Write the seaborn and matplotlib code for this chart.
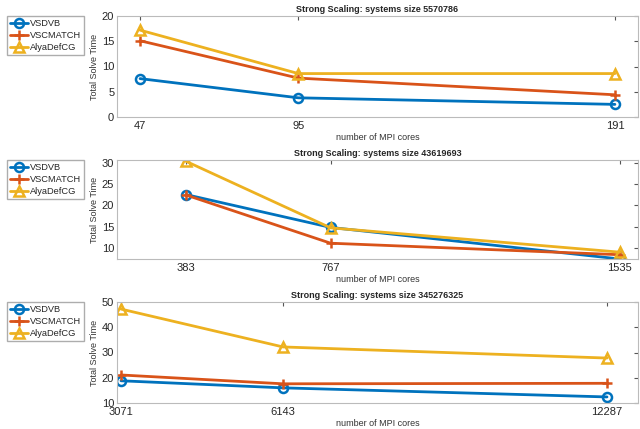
import matplotlib
matplotlib.use("Agg")
import matplotlib.pyplot as plt
import seaborn as sns
import pandas as pd

sns.set_style("white")
plt.rcParams['font.family'] = ['Liberation Sans', 'DejaVu Sans']

series_names = ["VSDVB", "VSCMATCH", "AlyaDefCG"]
colors = ["#0072BD", "#D95319", "#EDB120"]
markers = ["o", "+", "^"]

cores1 = [47, 95, 191]
vsdvb1 = [7.6, 3.8, 2.5]
vscmatch1 = [15.1, 7.7, 4.4]
alya1 = [17.2, 8.6, 8.6]

cores2 = [383, 767, 1535]
vsdvb2 = [22.5, 14.8, 7.4]
vscmatch2 = [22.4, 11.1, 8.4]
alya2 = [30.3, 14.7, 9.0]

cores3 = [3071, 6143, 12287]
vsdvb3 = [18.8, 16.0, 12.4]
vscmatch3 = [21.1, 17.6, 17.8]
alya3 = [47.2, 32.2, 27.8]

titles = ["Strong Scaling: systems size 5570786",
          "Strong Scaling: systems size 43619693",
          "Strong Scaling: systems size 345276325"]
xlims = [(40, 198), (200, 1583), (2995, 12875)]
ylims = [(0, 20), (7.4, 30.6), (10, 50)]
yticks = [[0, 5, 10, 15, 20], [10, 15, 20, 25, 30], [10, 20, 30, 40, 50]]

panels = [
    (cores1, [vsdvb1, vscmatch1, alya1]),
    (cores2, [vsdvb2, vscmatch2, alya2]),
    (cores3, [vsdvb3, vscmatch3, alya3]),
]

fig = plt.figure(figsize=(6.4, 4.29), dpi=100)
rects = [
    [117/640, 1-117/429, 521/640, 101/429],
    [117/640, 1-259/429, 521/640, 99/429],
    [117/640, 1-403/429, 521/640, 101/429],
]
legend_tops = [16, 160, 302]
axis_grey = "#555555"

for i, (cores, vals) in enumerate(panels):
    ax = fig.add_axes(rects[i])
    for name, v, c, m in zip(series_names, vals, colors, markers):
        df = pd.DataFrame({"cores": cores, "time": v})
        sns.lineplot(data=df, x="cores", y="time", ax=ax, color=c, marker=m,
                     markersize=6.5,
                     markerfacecolor="none", markeredgecolor=c,
                     markeredgewidth=1.8, linewidth=2, label=name)
    ax.set_xlim(*xlims[i])
    ax.set_ylim(*ylims[i])
    ax.set_xticks(cores)
    ax.set_xticklabels([str(c) for c in cores])
    ax.set_yticks(yticks[i])
    ax.tick_params(direction="in", length=3, labelsize=8, colors=axis_grey,
                   top=True, right=True, pad=2)
    ax.tick_params(axis="x", pad=3)
    for lab in ax.get_xticklabels() + ax.get_yticklabels():
        lab.set_color("#262626")
    for sp in ax.spines.values():
        sp.set_color("#BBBBBB")
        sp.set_linewidth(0.8)
    ax.set_title(titles[i], fontsize=6.5, fontweight="bold", pad=3)
    ax.set_xlabel("number of MPI cores", fontsize=6.5, color="#333333", labelpad=1)
    ax.set_ylabel("Total Solve Time", fontsize=6.5, color="#333333", labelpad=2)
    ax.legend_.remove()
    handles, labels = ax.get_legend_handles_labels()
    top = legend_tops[i]
    fig.legend(handles, labels, loc="upper left",
               bbox_to_anchor=(7/640, 1 - top/429), fontsize=6.7,
               frameon=True, fancybox=False, edgecolor="#999999",
               handlelength=2.0, handletextpad=0.2, borderpad=0.3,
               labelspacing=0.35, borderaxespad=0)

fig.savefig("out.png", dpi=100)
